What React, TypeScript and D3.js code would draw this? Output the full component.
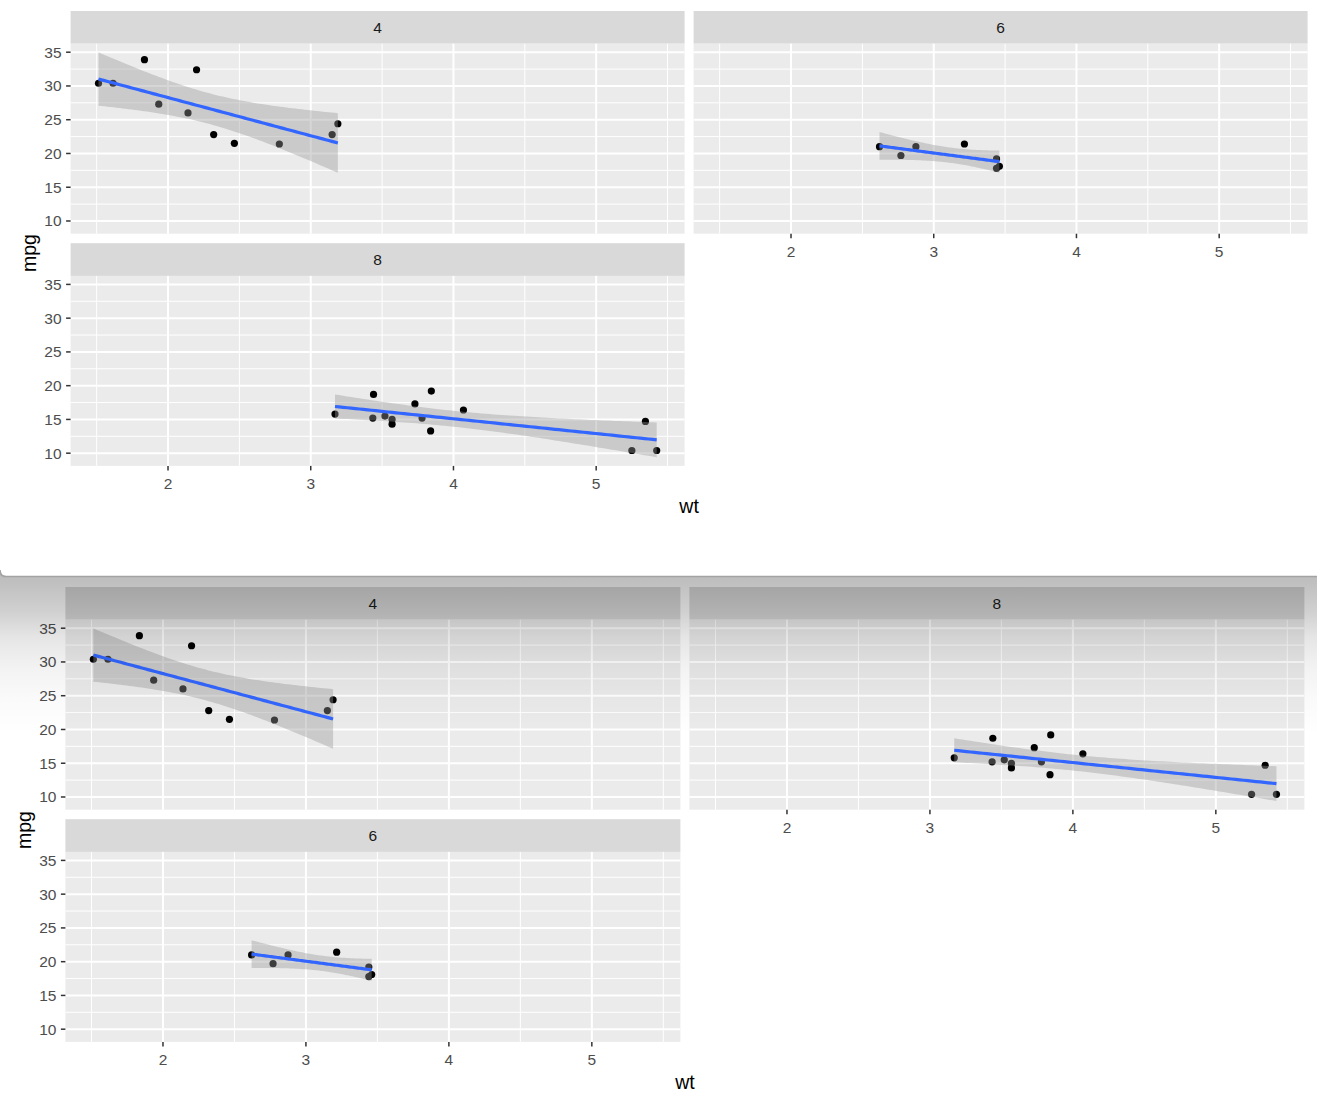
import React from "react";
import * as d3 from "d3";

// mtcars: wt / mpg by cylinder group
const cylGroups = ["4", "6", "8"];
const wt4 = [2.32, 3.19, 3.15, 2.2, 1.615, 1.835, 2.465, 1.935, 2.14, 1.513, 2.78];
const mpg4 = [22.8, 24.4, 22.8, 32.4, 30.4, 33.9, 21.5, 27.3, 26.0, 30.4, 21.4];
const wt6 = [2.62, 2.875, 3.215, 3.46, 3.44, 3.44, 2.77];
const mpg6 = [21.0, 21.0, 21.4, 18.1, 19.2, 17.8, 19.7];
const wt8 = [3.44, 3.57, 4.07, 3.73, 3.78, 5.25, 5.424, 5.345, 3.52, 3.435, 3.84, 3.845, 3.17, 3.57];
const mpg8 = [18.7, 14.3, 16.4, 17.3, 15.2, 10.4, 10.4, 14.7, 15.5, 15.2, 13.3, 19.2, 15.8, 15.0];
// Student t 0.975 quantiles for n-2 degrees of freedom (9, 5, 12)
const tCrit = [2.262157, 2.570582, 2.178813];

const xTicks = [2, 3, 4, 5];
const yTicks = [10, 15, 20, 25, 30, 35];
const xTickLabels = ["2", "3", "4", "5"];
const yTickLabels = ["10", "15", "20", "25", "30", "35"];

const topOrder = ["4", "6", "8"];
const bottomOrder = ["4", "8", "6"];

const groupData: Record<string, { wt: number[]; mpg: number[]; t: number }> = {
  "4": { wt: wt4, mpg: mpg4, t: tCrit[0] },
  "6": { wt: wt6, mpg: mpg6, t: tCrit[1] },
  "8": { wt: wt8, mpg: mpg8, t: tCrit[2] },
};

type FitPt = { x: number; y: number; lo: number; hi: number };

function lmFit(xs: number[], ys: number[], t: number): FitPt[] {
  const n = xs.length;
  const mx = d3.mean(xs)!;
  const my = d3.mean(ys)!;
  let sxx = 0, sxy = 0;
  xs.forEach((x, i) => {
    sxx += (x - mx) ** 2;
    sxy += (x - mx) * (ys[i] - my);
  });
  const b = sxy / sxx;
  const a = my - b * mx;
  let rss = 0;
  xs.forEach((x, i) => (rss += (ys[i] - a - b * x) ** 2));
  const s = Math.sqrt(rss / (n - 2));
  const [x0, x1] = d3.extent(xs) as [number, number];
  const grid = d3.range(80).map((i) => x0 + ((x1 - x0) * i) / 79);
  return grid.map((x) => {
    const y = a + b * x;
    const se = s * Math.sqrt(1 / n + (x - mx) ** 2 / sxx);
    return { x, y, lo: y - t * se, hi: y + t * se };
  });
}

const fits: Record<string, FitPt[]> = {};
cylGroups.forEach((g) => {
  const d = groupData[g];
  fits[g] = lmFit(d.wt, d.mpg, d.t);
});

const allWt = [...wt4, ...wt6, ...wt8];
const allY = [
  ...mpg4, ...mpg6, ...mpg8,
  ...cylGroups.flatMap((g) => fits[g].flatMap((p) => [p.lo, p.hi])),
];
function expand([a, b]: [number, number]): [number, number] {
  const r = b - a;
  return [a - 0.05 * r, b + 0.05 * r];
}
const xDomain = expand(d3.extent(allWt) as [number, number]);
const yDomain = expand(d3.extent(allY) as [number, number]);

const FONT = "'Liberation Sans', Arial, sans-serif";
const STRIP_H = 32.7;
const PANEL_H = 190;
const ROW_GAP = 9.5;

function Panel({ g, x0, y0, w, showX, showY }: { g: string; x0: number; y0: number; w: number; showX: boolean; showY: boolean }) {
  const xs = d3.scaleLinear().domain(xDomain).range([0, w]);
  const ys = d3.scaleLinear().domain(yDomain).range([PANEL_H, 0]);
  const py = y0 + STRIP_H;
  const xMinor = d3.range(1.5, 6, 1).filter((v) => v >= xDomain[0] && v <= xDomain[1]);
  const yMinor = d3.range(7.5, 40, 5).filter((v) => v >= yDomain[0] && v <= yDomain[1]);
  const d = groupData[g];
  const f = fits[g];
  const area = d3.area<FitPt>().x((p) => xs(p.x)).y0((p) => ys(p.lo)).y1((p) => ys(p.hi));
  const line = d3.line<FitPt>().x((p) => xs(p.x)).y((p) => ys(p.y));
  return (
    <g>
      <rect x={x0} y={y0} width={w} height={STRIP_H} fill="#D9D9D9" />
      <text x={x0 + w / 2} y={y0 + STRIP_H / 2 + 5.5} textAnchor="middle" fontSize={15.5} fill="#1A1A1A" fontFamily={FONT}>{g}</text>
      <g transform={`translate(${x0},${py})`}>
        <rect width={w} height={PANEL_H} fill="#EBEBEB" />
        {yMinor.map((v) => <line key={"ym" + v} x1={0} x2={w} y1={ys(v)} y2={ys(v)} stroke="#fff" strokeWidth={1} />)}
        {xMinor.map((v) => <line key={"xm" + v} y1={0} y2={PANEL_H} x1={xs(v)} x2={xs(v)} stroke="#fff" strokeWidth={1} />)}
        {yTicks.map((v) => <line key={"yM" + v} x1={0} x2={w} y1={ys(v)} y2={ys(v)} stroke="#fff" strokeWidth={2} />)}
        {xTicks.map((v) => <line key={"xM" + v} y1={0} y2={PANEL_H} x1={xs(v)} x2={xs(v)} stroke="#fff" strokeWidth={2} />)}
        {d.wt.map((x, i) => <circle key={i} cx={xs(x)} cy={ys(d.mpg[i])} r={3.6} fill="#000" />)}
        <path d={area(f)!} fill="#999999" fillOpacity={0.4} />
        <path d={line(f)!} fill="none" stroke="#3366FF" strokeWidth={3.2} />
        {showY && yTicks.map((v, i) => (
          <g key={"yt" + v}>
            <line x1={-4.5} x2={0} y1={ys(v)} y2={ys(v)} stroke="#333" strokeWidth={1.5} />
            <text x={-9} y={ys(v) + 5.5} textAnchor="end" fontSize={15.5} fill="#4D4D4D" fontFamily={FONT}>{yTickLabels[i]}</text>
          </g>
        ))}
        {showX && xTicks.map((v, i) => (
          <g key={"xt" + v}>
            <line x1={xs(v)} x2={xs(v)} y1={PANEL_H} y2={PANEL_H + 4.5} stroke="#333" strokeWidth={1.5} />
            <text x={xs(v)} y={PANEL_H + 23} textAnchor="middle" fontSize={15.5} fill="#4D4D4D" fontFamily={FONT}>{xTickLabels[i]}</text>
          </g>
        ))}
      </g>
    </g>
  );
}

function Facet({ lefts, w, top, order, mpgX, mpgY }: { lefts: [number, number]; w: number; top: number; order: string[]; mpgX: number; mpgY: number }) {
  const row2 = top + STRIP_H + PANEL_H + ROW_GAP;
  const bottom = row2 + STRIP_H + PANEL_H;
  const center = (lefts[0] + lefts[1] + w) / 2;
  return (
    <g>
      <Panel g={order[0]} x0={lefts[0]} y0={top} w={w} showX={false} showY={true} />
      <Panel g={order[1]} x0={lefts[1]} y0={top} w={w} showX={true} showY={false} />
      <Panel g={order[2]} x0={lefts[0]} y0={row2} w={w} showX={true} showY={true} />
      <text x={center} y={bottom + 47} textAnchor="middle" fontSize={19.5} fill="#000" fontFamily={FONT}>wt</text>
      <text transform={`translate(${mpgX},${mpgY}) rotate(-90)`} textAnchor="middle" fontSize={19.5} fill="#000" fontFamily={FONT}>mpg</text>
    </g>
  );
}

export default function App() {
  return (
    <svg width={1317} height={1099} style={{ position: "absolute", left: 0, top: 0 }}>
      <defs>
        <linearGradient id="shadow" x1="0" y1="0" x2="0" y2="1">
          <stop offset="0" stopColor="#000" stopOpacity={0.27} />
          <stop offset="0.1" stopColor="#000" stopOpacity={0.24} />
          <stop offset="0.26" stopColor="#000" stopOpacity={0.18} />
          <stop offset="0.41" stopColor="#000" stopOpacity={0.1} />
          <stop offset="0.59" stopColor="#000" stopOpacity={0.05} />
          <stop offset="0.78" stopColor="#000" stopOpacity={0.02} />
          <stop offset="1" stopColor="#000" stopOpacity={0} />
        </linearGradient>
      </defs>
      <rect width={1317} height={1099} fill="#fff" />
      <Facet lefts={[65.4, 689.4]} w={615} top={587} order={bottomOrder} mpgX={30.5} mpgY={830} />
      <rect x={0} y={570} width={1317} height={165} fill="url(#shadow)" />
      <path d="M0,0 L1317,0 L1317,576 L6,576 Q0,576 0,570 Z" fill="#fff" />
      <path d="M0,570 Q0,576.5 6,576.5 L1317,576.5" fill="none" stroke="#A3A3A3" strokeWidth={1.6} />
      <Facet lefts={[70.6, 693.6]} w={614} top={11} order={topOrder} mpgX={35.5} mpgY={253} />
    </svg>
  );
}
